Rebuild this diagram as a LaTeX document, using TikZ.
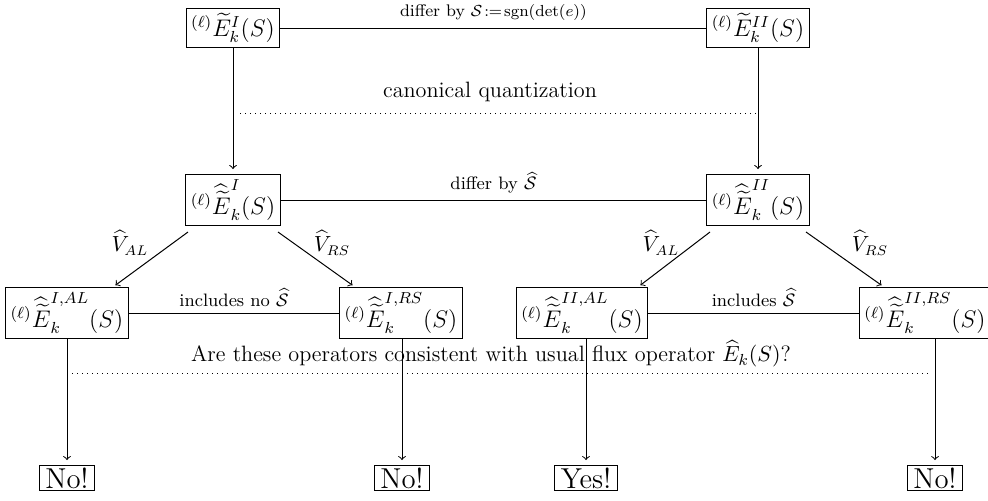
\documentclass[tikz,border=0pt]{standalone}
\usepackage{amsmath,amssymb}
\begin{document}
\begin{tikzpicture}[x=0.5pt,y=-0.5pt,
  box/.style={draw, line width=0.5pt, inner sep=2.5pt, font=\large},
  ans/.style={draw, line width=0.5pt, inner xsep=3pt, inner ysep=1pt, font=\Large},
  lbl/.style={font=\fontsize{9}{11}\selectfont, above, inner sep=3pt},
  toplbl/.style={font=\fontsize{8.4}{10}\selectfont, above, inner sep=3.5pt},
  txt/.style={font=\fontsize{11.1}{13}\selectfont},
  vlbl/.style={font=\fontsize{10.5}{12}\selectfont},
  conn/.style={line width=0.5pt},
  arr/.style={->, line width=0.5pt, shorten >=2.5pt},
  darr/.style={->, line width=0.5pt, shorten >=1.5pt},
  dots/.style={dotted, line width=0.5pt}]
\useasboundingbox (0,0) rectangle (988,500);

% top row
\node[box] (A) at (233,28) {${}^{(\ell)}\widetilde{E}^{I}_k(S)$};
\node[box] (B) at (758,28) {${}^{(\ell)}\widetilde{E}^{II}_k(S)$};
\draw[conn] (A) -- (B) node[toplbl, midway] {differ by $\mathcal{S}\!:=\!\mathrm{sgn}(\det(e))$};

% second row
\node[box] (C) at (233,200) {${}^{(\ell)}\widehat{\widetilde{E}}^{I}_k(S)$};
\node[box] (D) at (758,200) {${}^{(\ell)}\widehat{\widetilde{E}}^{II}_k(S)$};
\draw[conn] (C) -- (D) node[lbl, midway] {differ by $\widehat{\mathcal{S}}$};

\draw[arr] (A) -- (C);
\draw[arr] (B) -- (D);

\node[txt] (cq) at (490,92) {canonical quantization};
\coordinate (q1) at (240,113);
\coordinate (q2) at (756,113);
\draw[dots] (q1) -- (q2);

% third row
\node[box] (E) at (67,313) {${}^{(\ell)}\widehat{\widetilde{E}}^{I,AL}_k(S)$};
\node[box] (F) at (401,313) {${}^{(\ell)}\widehat{\widetilde{E}}^{I,RS}_k(S)$};
\node[box] (G) at (582,313) {${}^{(\ell)}\widehat{\widetilde{E}}^{II,AL}_k(S)$};
\node[box] (H) at (925,313) {${}^{(\ell)}\widehat{\widetilde{E}}^{II,RS}_k(S)$};

\draw[conn] (E) -- (F) node[lbl, midway] {includes no $\widehat{\mathcal{S}}$};
\draw[conn] (G) -- (H) node[lbl, midway] {includes $\widehat{\mathcal{S}}$};

\coordinate (c1) at (188,232);
\coordinate (c2) at (278,232);
\coordinate (d1) at (710,232);
\coordinate (d2) at (806,232);
\draw[darr] (c1) -- (E.north -| 113,0);
\draw[darr] (c2) -- (F.north -| 355,0);
\draw[darr] (d1) -- (G.north -| 638,0);
\draw[darr] (d2) -- (H.north -| 884,0);

\node[vlbl] at (130,243) {$\widehat{V}_{AL}$};
\node[vlbl] at (332,243) {$\widehat{V}_{RS}$};
\node[vlbl] at (661,243) {$\widehat{V}_{AL}$};
\node[vlbl] at (870,243) {$\widehat{V}_{RS}$};

% question
\node[txt] (qq) at (491,354) {Are these operators consistent with usual flux operator $\widehat{E}_k(S)$?};
\coordinate (r1) at (72,373);
\coordinate (r2) at (930,373);
\draw[dots] (r1) -- (r2);

% answers
\node[ans] (N1) at (67,478) {No!};
\node[ans] (N2) at (402,478) {No!};
\node[ans] (Y1) at (586,478) {Yes!};
\node[ans] (N3) at (935,478) {No!};

\draw[arr] (E.south -| N1) -- (N1);
\draw[arr] (F.south -| N2) -- (N2);
\draw[arr] (G.south -| Y1) -- (Y1);
\draw[arr] (H.south -| N3) -- (N3);
\end{tikzpicture}
\end{document}
